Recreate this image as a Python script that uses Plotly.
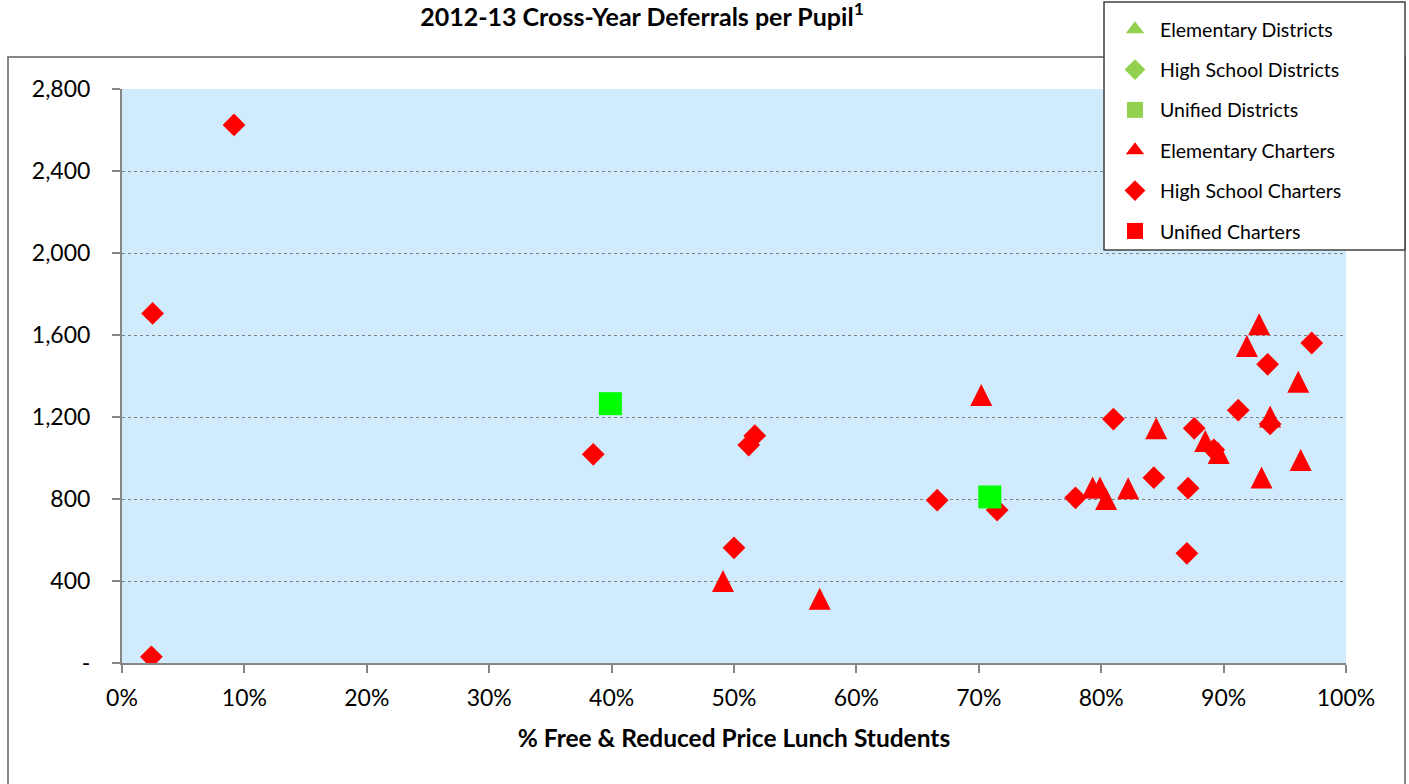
import plotly.graph_objects as go

# ---------------- data ----------------
x_tick_vals = [0, 10, 20, 30, 40, 50, 60, 70, 80, 90, 100]
x_tick_labels = ["0%", "10%", "20%", "30%", "40%", "50%", "60%", "70%", "80%", "90%", "100%"]
y_tick_vals = [0, 400, 800, 1200, 1600, 2000, 2400, 2800]
y_tick_labels = ["-", "400", "800", "1,200", "1,600", "2,000", "2,400", "2,800"]

# High School Charters (red diamonds)
hs_charter_x = [2.4, 9.15, 2.5, 38.5, 50.0, 51.2, 51.7, 66.6, 71.5, 77.9, 81.0,
                84.3, 87.1, 87.0, 87.6, 91.2, 93.6, 97.2, 93.8, 89.2]
hs_charter_y = [30, 2625, 1705, 1018, 562, 1063, 1109, 794, 746, 806, 1190,
                904, 853, 535, 1145, 1233, 1457, 1561, 1166, 1040]

# Elementary Charters (red triangles)
el_charter_x = [49.1, 57.0, 70.2, 79.3, 79.9, 80.4, 82.2, 84.5, 88.5, 89.6,
                91.9, 92.9, 96.1, 93.8, 96.3, 93.1]
el_charter_y = [400, 313, 1307, 856, 856, 800, 853, 1145, 1083, 1024,
                1546, 1653, 1372, 1202, 990, 905]

# Unified Districts (green squares)
unified_district_x = [39.9, 70.9]
unified_district_y = [1265, 810]

legend_names = ["Elementary Districts", "High School Districts", "Unified Districts",
                "Elementary Charters", "High School Charters", "Unified Charters"]
legend_symbols = ["triangle-up", "diamond", "square", "triangle-up", "diamond", "square"]
legend_colors = ["#92D050", "#92D050", "#92D050", "#FF0000", "#FF0000", "#FF0000"]

# ---------------- layout geometry ----------------
W, H = 1409, 784
L, R, T, B = 122, 1346, 89, 663
pw, ph = R - L, B - T


def px_x(p):
    return (p - L) / pw


def px_y(p):
    return (B - p) / ph


FONT = "Lato, Carlito, Calibri, sans-serif"
TRI = 22  # triangle marker size (px)

fig = go.Figure()

# data traces
fig.add_trace(go.Scatter(
    x=el_charter_x, y=el_charter_y, mode="markers", showlegend=False,
    name="Elementary Charters",
    marker=dict(symbol="arrow-down", angle=180, size=TRI, standoff=TRI / 2,
                color="#FF0000", line=dict(width=0)),
))
fig.add_trace(go.Scatter(
    x=hs_charter_x, y=hs_charter_y, mode="markers", showlegend=False,
    name="High School Charters",
    marker=dict(symbol="diamond", size=17.5, color="#FF0000", line=dict(width=0)),
))
fig.add_trace(go.Scatter(
    x=unified_district_x, y=unified_district_y, mode="markers", showlegend=False,
    name="Unified Districts",
    marker=dict(symbol="square", size=23, color="#00FF00", line=dict(width=0)),
))

# legend entries
for i, (nm, sym, col) in enumerate(zip(legend_names, legend_symbols, legend_colors)):
    fig.add_trace(go.Scatter(
        x=[None], y=[None], mode="markers", name=nm, legendgroup=f"g{i}",
        marker=dict(symbol=sym, size=16, color=col, line=dict(width=0)),
    ))

fig.update_layout(
    width=W, height=H, autosize=False,
    margin=dict(l=L, r=W - R, t=T, b=H - B, pad=0, autoexpand=False),
    paper_bgcolor="white",
    plot_bgcolor="#D0ECFC",
    font=dict(family=FONT, size=23, color="black"),
    title=dict(
        text="<b>2012-13 Cross-Year Deferrals per Pupil<sup>1</sup></b>",
        x=642 / W, xanchor="center", xref="container",
        y=1 - 17 / H, yanchor="middle", yref="container",
        font=dict(family=FONT, size=25, color="black"),
    ),
    xaxis=dict(
        range=[0, 100], tickvals=x_tick_vals, ticktext=x_tick_labels,
        showgrid=False, zeroline=False,
        showline=True, linecolor="#868686", linewidth=2,
        ticks="outside", ticklen=8, tickwidth=2, tickcolor="#868686",
        tickfont=dict(family=FONT, size=23, color="black"),
        ticklabelstandoff=5,
        title=dict(text="<b>% Free & Reduced Price Lunch Students</b>",
                   font=dict(family=FONT, size=24.5, color="black"), standoff=20),
        fixedrange=True,
    ),
    yaxis=dict(
        range=[0, 2800], tickvals=y_tick_vals, ticktext=y_tick_labels,
        showgrid=True, gridcolor="#7F7F7F", griddash="dot", gridwidth=1,
        zeroline=False,
        showline=True, linecolor="#868686", linewidth=2,
        ticks="outside", ticklen=8, tickwidth=2, tickcolor="#868686",
        tickfont=dict(family=FONT, size=23, color="black"),
        ticklabelstandoff=17,
        fixedrange=True,
    ),
    legend=dict(
        x=px_x(1110), y=px_y(10), xanchor="left", yanchor="top",
        bgcolor="rgba(0,0,0,0)", borderwidth=0,
        font=dict(family=FONT, size=19.5, color="black"),
        tracegroupgap=12, itemwidth=40,
    ),
    shapes=[
        dict(type="rect", xref="paper", yref="paper",
             x0=px_x(8), x1=px_x(1405), y0=px_y(800), y1=px_y(57),
             line=dict(color="#868686", width=2), fillcolor="rgba(0,0,0,0)",
             layer="above"),
        dict(type="rect", xref="paper", yref="paper",
             x0=px_x(1104), x1=px_x(1405), y0=px_y(250), y1=px_y(2),
             line=dict(color="#404040", width=1.5), fillcolor="white",
             layer="above"),
    ],
)

fig.write_html(
    "out.html",
    config=dict(displayModeBar=False),
    post_script="document.body.style.margin='0';document.body.style.padding='0';",
)
